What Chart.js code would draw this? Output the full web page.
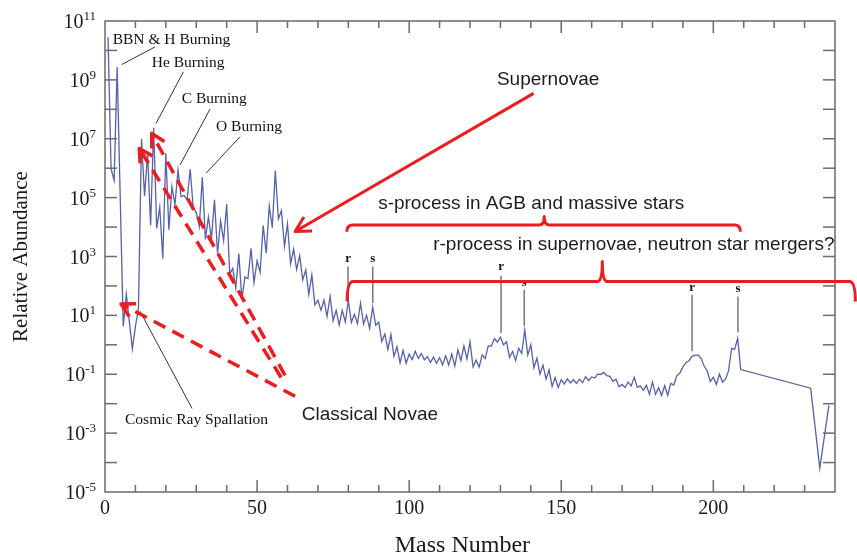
<!DOCTYPE html>
<html>
<head>
<meta charset="utf-8">
<script src="https://cdn.jsdelivr.net/npm/chart.js@4.4.1/dist/chart.umd.min.js"></script>
<style>
  html, body { margin: 0; padding: 0; background: #fff; }
  #wrap { width: 857px; height: 553px; }
</style>
</head>
<body>
<div id="wrap"><canvas id="abund" width="857" height="553"></canvas></div>
<script>
//mass numbers that have a stable (or long lived) isobar
const massNumbers = [
  1, 2, 3, 4, 6, 7, 9, 10, 11, 12, 13, 14, 15, 16, 17, 18, 19, 20,
  21, 22, 23, 24, 25, 26, 27, 28, 29, 30, 31, 32, 33, 34, 35, 36, 37, 38, 39, 40,
  41, 42, 43, 44, 45, 46, 47, 48, 49, 50, 51, 52, 53, 54, 55, 56, 57, 58, 59, 60,
  61, 62, 63, 64, 65, 66, 67, 68, 69, 70, 71, 72, 73, 74, 75, 76, 77, 78, 79, 80,
  81, 82, 83, 84, 85, 86, 87, 88, 89, 90, 91, 92, 93, 94, 95, 96, 97, 98, 99, 100,
  101, 102, 103, 104, 105, 106, 107, 108, 109, 110, 111, 112, 113, 114, 115, 116, 117, 118, 119, 120,
  121, 122, 123, 124, 125, 126, 127, 128, 129, 130, 131, 132, 133, 134, 135, 136, 137, 138, 139, 140,
  141, 142, 143, 144, 145, 146, 147, 148, 149, 150, 151, 152, 153, 154, 155, 156, 157, 158, 159, 160,
  161, 162, 163, 164, 165, 166, 167, 168, 169, 170, 171, 172, 173, 174, 175, 176, 177, 178, 179, 180,
  181, 182, 183, 184, 185, 186, 187, 188, 189, 190, 191, 192, 193, 194, 195, 196, 197, 198, 199, 200,
  201, 202, 203, 204, 205, 206, 207, 208, 209, 232, 235, 238
];
//relative abundance (Si = 1e6), one value per mass number above
const abundances = [
  2.79e10, 9.5e5, 3.86e5, 2.72e9, 4.28, 52.8, 0.73, 4.2, 17.0, 1.0e7, 1.12e5, 3.12e6, 1.15e4, 2.37e7, 9.04e3, 4.75e4, 843, 3.2e6,
  8.2e3, 2.36e5, 5.74e4, 8.5e5, 1.08e5, 1.18e5, 8.49e4, 9.22e5, 4.67e4, 3.1e4, 1.04e4, 4.89e5, 3.9e3, 2.18e4, 3.96e3, 8.5e4, 1270, 1.6e4, 3490, 5.92e4,
  254, 396, 84, 1270, 34.2, 200, 179, 1880, 130, 712, 292, 1.13e4, 1290, 5.25e4, 9550, 8.27e5, 1.9e4, 3.6e4, 2250, 1.29e4,
  561, 1790, 361, 1070, 161, 351, 51.6, 237, 22.8, 32.8, 15.1, 32.7, 9.2, 43.9, 6.56, 14.8, 4.7, 14.8, 5.97, 31.9,
  5.8, 10.9, 5.2, 25.8, 5.1, 10.1, 3.6, 19.4, 4.64, 5.87, 1.28, 2.34, 0.698, 2.22, 0.406, 0.85, 0.244, 0.65, 0.236, 0.48,
  0.317, 0.60, 0.344, 0.50, 0.31, 0.40, 0.252, 0.38, 0.234, 0.364, 0.206, 0.425, 0.205, 0.487, 0.189, 0.675, 0.293, 0.926, 0.328, 1.25,
  0.177, 0.30, 0.175, 0.456, 0.342, 0.915, 0.90, 1.61, 1.24, 1.82, 0.996, 1.27, 0.372, 0.60, 0.296, 0.77, 0.504, 3.23, 0.446, 1.005,
  0.167, 0.351, 0.101, 0.205, 0.069, 0.142, 0.0387, 0.077, 0.0357, 0.066, 0.0465, 0.070, 0.0508, 0.066, 0.0489, 0.068, 0.0516, 0.082, 0.0603, 0.081,
  0.0745, 0.101, 0.098, 0.115, 0.0889, 0.0843, 0.0576, 0.0675, 0.0378, 0.045, 0.0355, 0.0543, 0.04, 0.079, 0.0357, 0.0405, 0.0286, 0.042, 0.021, 0.054,
  0.0207, 0.035, 0.019, 0.041, 0.0193, 0.049, 0.043, 0.0898, 0.109, 0.178, 0.247, 0.288, 0.414, 0.441, 0.453, 0.34, 0.187, 0.131, 0.057, 0.0785,
  0.045, 0.1015, 0.0543, 0.068, 0.13, 0.76, 0.70, 1.65, 0.144, 0.0335, 6.5e-5, 0.009
];
//labelled tick values
const massTicks = [0, 50, 100, 150, 200];
const decadeLabels = [-5, -3, -1, 1, 3, 5, 7, 9, 11];

const SERIF = "'Liberation Serif', 'Times New Roman', serif";
const SANS = "'Liberation Sans', Arial, sans-serif";
const RED = "#ec1c1f";

//helpers: position in (mass number, log10 abundance)
const P = (chart, a, e) => [chart.scales.x.getPixelForValue(a), chart.scales.y.getPixelForValue(Math.pow(10, e))];

function seg(ctx, p, q) {
  ctx.beginPath();
  ctx.moveTo(p[0], p[1]);
  ctx.lineTo(q[0], q[1]);
  ctx.stroke();
}
function head(ctx, from, to, size) {
  const ang = Math.atan2(to[1] - from[1], to[0] - from[0]);
  ctx.setLineDash([]);
  ctx.beginPath();
  ctx.moveTo(to[0] - size * Math.cos(ang - 0.5), to[1] - size * Math.sin(ang - 0.5));
  ctx.lineTo(to[0], to[1]);
  ctx.lineTo(to[0] - size * Math.cos(ang + 0.5), to[1] - size * Math.sin(ang + 0.5));
  ctx.stroke();
}
function brace(chart, aL, aR, aN, e, eEnd, eNotch) {
  const ctx = chart.ctx;
  const [xl, y] = P(chart, aL, e);
  const [xr] = P(chart, aR, e);
  const [xn] = P(chart, aN, e);
  const yEnd = P(chart, aL, eEnd)[1];
  const yN = P(chart, aN, eNotch)[1];
  ctx.beginPath();
  ctx.moveTo(xl, yEnd);
  ctx.quadraticCurveTo(xl, y, xl + 6, y);
  ctx.lineTo(xn - 5, y);
  ctx.quadraticCurveTo(xn, y, xn, yN);
  ctx.quadraticCurveTo(xn, y, xn + 5, y);
  ctx.lineTo(xr - 6, y);
  ctx.quadraticCurveTo(xr, y, xr, yEnd);
  ctx.stroke();
}

//axis box, inward ticks, power-of-ten labels and x title
const frame = {
  id: "frame",
  afterDraw(chart) {
    const ctx = chart.ctx;
    const { left, right, top, bottom } = chart.chartArea;
    const xs = chart.scales.x, ys = chart.scales.y;
    ctx.save();
    ctx.strokeStyle = "#6b6b6b";
    ctx.lineWidth = 1.5;
    ctx.strokeRect(left, top, right - left, bottom - top);
    for (let a = 10; a < 240; a += 10) {
      const len = a % 50 === 0 ? 12 : 7;
      const x = xs.getPixelForValue(a);
      seg(ctx, [x, bottom], [x, bottom - len]);
      seg(ctx, [x, top], [x, top + len]);
    }
    for (let e = -4; e <= 10; e++) {
      const y = ys.getPixelForValue(Math.pow(10, e));
      seg(ctx, [left, y], [left + 12, y]);
      seg(ctx, [right, y], [right - 12, y]);
    }
    ctx.fillStyle = "#1a1a1a";
    ctx.textBaseline = "alphabetic";
    ctx.textAlign = "left";
    for (const e of decadeLabels) {
      const y = ys.getPixelForValue(Math.pow(10, e));
      const expText = e < 0 ? "-" + (-e) : String(e);
      ctx.font = "13px " + SERIF;
      const ew = ctx.measureText(expText).width;
      ctx.font = "20px " + SERIF;
      const bw = ctx.measureText("10").width;
      const xEnd = left - 9;
      ctx.fillText("10", xEnd - ew - bw, y + 7);
      ctx.font = "13px " + SERIF;
      ctx.fillText(expText, xEnd - ew, y - 1);
    }
    //x axis title
    ctx.textAlign = "center";
    ctx.font = "24px " + SERIF;
    ctx.fillText("Mass Number", xs.getPixelForValue(117.5), 552);
    ctx.restore();
  },
};

//labels, leader lines, arrows and braces
const notes = {
  id: "notes",
  afterDraw(chart) {
    const ctx = chart.ctx;
    ctx.save();
    ctx.textBaseline = "alphabetic";
    ctx.textAlign = "left";
    //burning stage labels
    ctx.fillStyle = "#111";
    ctx.font = "15.5px " + SERIF;
    [["BBN & H Burning", 2.53, 10.23], ["He Burning", 15.36, 9.44], ["C Burning", 25.23, 8.2],
     ["O Burning", 36.51, 7.26], ["Cosmic Ray Spallation", 6.58, -2.68]].forEach(([t, a, e]) => {
      const p = P(chart, a, e);
      ctx.fillText(t, p[0], p[1]);
    });
    ctx.strokeStyle = "#333";
    ctx.lineWidth = 1;
    [[5.49, 9.52, 16.45, 10.12], [16.78, 7.52, 25.76, 9.27], [24.67, 6.11, 34.54, 8.01],
     [33.22, 5.83, 44.41, 7.07], [11.51, 1.14, 28.62, -2.16]].forEach(([a1, e1, a2, e2]) => {
      seg(ctx, P(chart, a1, e1), P(chart, a2, e2));
    });
    //r / s peak markers
    ctx.font = "bold 13px " + SERIF;
    ctx.textAlign = "center";
    [["r", 79.9, 2.82, 2.66, 1.47], ["s", 88.06, 2.82, 2.66, 1.42], ["r", 130.2, 2.55, 2.35, 0.4],
     ["s", 137.8, 2.01, 1.87, 0.65], ["r", 193, 1.84, 1.7, -0.22], ["s", 208.1, 1.78, 1.64, 0.42]].forEach(([t, a, et, e1, e2]) => {
      const p = P(chart, a, et);
      ctx.fillText(t, p[0], p[1]);
      seg(ctx, P(chart, a, e1), P(chart, a, e2));
    });
    //process labels
    ctx.textAlign = "left";
    ctx.fillStyle = "#1c1c1c";
    ctx.font = "19px " + SANS;
    [["Supernovae", 128.85, 8.82], ["s-process in AGB and massive stars", 89.8, 4.63],
     ["r-process in supernovae, neutron star mergers?", 107.9, 3.23], ["Classical Novae", 64.7, -2.57]].forEach(([t, a, e]) => {
      const p = P(chart, a, e);
      ctx.fillText(t, p[0], p[1]);
    });
    //red braces and arrows
    ctx.strokeStyle = RED;
    ctx.lineWidth = 3;
    ctx.lineJoin = "round";
    ctx.lineCap = "butt";
    brace(chart, 79.5, 208.9, 144.4, 4.07, 3.84, 4.36);
    brace(chart, 79.6, 246.7, 163.5, 2.15, 1.47, 2.83);
    const snFrom = P(chart, 140.9, 8.54), snTo = P(chart, 62.5, 3.85);
    seg(ctx, snFrom, snTo);
    head(ctx, snFrom, snTo, 17);
    ctx.lineWidth = 3.5;
    [[62.5, -1.75, 5.26, 1.39], [57.9, -1.11, 11.28, 6.67], [59.2, -1.04, 15.36, 7.18]].forEach(([a1, e1, a2, e2]) => {
      const from = P(chart, a1, e1), to = P(chart, a2, e2);
      ctx.setLineDash([13, 8]);
      seg(ctx, from, to);
      head(ctx, from, to, 15);
    });
    ctx.restore();
  },
};

const points = massNumbers.map((a, i) => ({ x: a, y: abundances[i] }));

new Chart(document.getElementById("abund"), {
  type: "line",
  plugins: [frame, notes],
  data: {
    datasets: [{
      data: points,
      borderColor: "#5561aa",
      borderWidth: 1.3,
      pointRadius: 0,
      tension: 0,
      fill: false,
    }],
  },
  options: {
    responsive: false,
    animation: false,
    devicePixelRatio: 1,
    layout: { padding: { top: 21, right: 22, left: 0, bottom: 0 } },
    plugins: { legend: { display: false }, tooltip: { enabled: false } },
    scales: {
      x: {
        type: "linear",
        min: 0,
        max: 240,
        afterBuildTicks: (s) => { s.ticks = massTicks.map((v) => ({ value: v })); },
        afterFit: (s) => { s.height = 61; },
        grid: { display: false, drawTicks: false },
        border: { display: false },
        ticks: { font: { family: SERIF, size: 20 }, color: "#1a1a1a", padding: 5, maxRotation: 0 },
        title: { display: false },
      },
      y: {
        type: "logarithmic",
        min: 1e-5,
        max: 1e11,
        afterFit: (s) => { s.width = 105; },
        ticks: { display: false },
        grid: { display: false, drawTicks: false },
        border: { display: false },
        title: { display: true, text: "Relative Abundance", font: { family: SERIF, size: 21 }, color: "#1a1a1a", padding: { top: 9, bottom: 0 } },
      },
    },
  },
});
</script>
</body>
</html>
